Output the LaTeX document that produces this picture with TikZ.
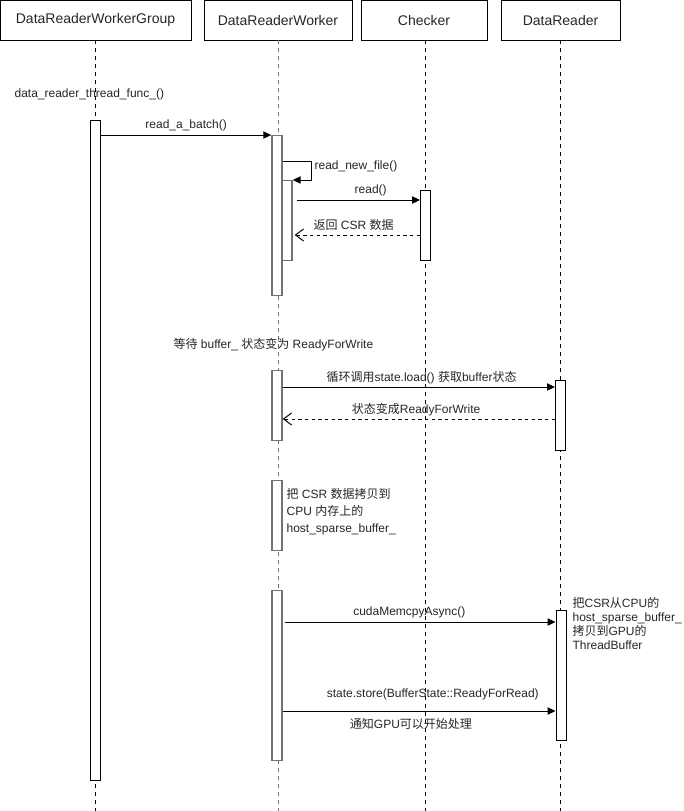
\documentclass[tikz,border=0pt]{standalone}
\usepackage{fontspec}
\setmainfont{Liberation Sans}
\newfontfamily\cjk{Noto Sans CJK SC}
\newcommand{\zh}[1]{{\cjk #1}}
\usetikzlibrary{arrows.meta,positioning}

\begin{document}
\begin{tikzpicture}[x=0.75pt,y=-0.75pt,
  head/.style={draw, minimum height=30pt, inner sep=0pt, text=black!85,
    font=\fontsize{10.5}{12}\selectfont},
  act/.style={draw, fill=white, line width=0.75pt, minimum width=7.5pt,
    inner sep=0pt, anchor=north},
  actw/.style={act, draw=black!55, line width=1.1pt},
  life/.style={dash pattern=on 3pt off 3pt, line width=0.6pt},
  msg/.style={line width=0.75pt, -{Triangle[length=6pt,width=5.5pt]}},
  ret/.style={line width=0.75pt, dash pattern=on 2.5pt off 2.5pt,
    -{Straight Barb[length=6pt,width=9pt]}},
  lbl/.style={inner sep=1pt, text=black!85, font=\fontsize{9}{11}\selectfont},
  txt/.style={lbl, align=left}]

\useasboundingbox (0,0) rectangle (683,811);

% ------------------- Kopfzeile -------------------
\node[head, minimum width=143.25pt] (grp) at (95.5,20) {DataReaderWorkerGroup};
\node[head, minimum width=111pt]    (wrk) at (278,20)  {DataReaderWorker};
\node[head, minimum width=94.5pt]   (chk) at (424,20)  {Checker};
\node[head, minimum width=89.25pt]  (rdr) at (560.5,20) {DataReader};

% Lebenslinien
\draw[life] (grp.south) -- (grp.south |- 0,811);
\draw[life, black!55] (wrk.south) -- (wrk.south |- 0,811);
\draw[life] ([xshift=1pt]chk.south) -- ([xshift=1pt]chk.south |- 0,811);
\draw[life] (rdr.south) -- (rdr.south |- 0,811);

% ------------------- Aktivierungen -------------------
\node[act,  minimum height=495pt]   (a1)  at (grp.south |- 0,120) {};
\node[actw, minimum height=120pt]   (a2)  at (277,135) {};
\node[actw, minimum height=60pt]    (a2b) at (287,180) {};
\node[act,  minimum height=52.5pt]  (c1)  at (425.5,190) {};
\node[actw, minimum height=52.5pt]  (a3)  at (277,370) {};
\node[act,  minimum height=52.5pt]  (r1)  at (560.5,380) {};
\node[actw, minimum height=52.5pt]  (a4)  at (277,480) {};
\node[actw, minimum height=127.5pt] (a5)  at (277,590) {};
\node[act,  minimum height=97.5pt]  (r2)  at (561,610) {};

% ------------------- Texte -------------------
\node[lbl, anchor=west] (start) at (13,94) {data\_reader\_thread\_func\_()};
\node[lbl, anchor=west] (wait) at (172,345)
  {\zh{等待} buffer\_ \zh{状态变为} ReadyForWrite};
\node[txt, anchor=north west, font=\fontsize{9}{12.5}\selectfont] (copy) at (285,487)
  {\zh{把} CSR \zh{数据拷贝到}\\CPU \zh{内存上的}\\host\_sparse\_buffer\_};
\node[txt, anchor=north west, font=\fontsize{9}{10.4}\selectfont] (note) at (571,596)
  {\zh{把}CSR\zh{从}CPU\zh{的}\\host\_sparse\_buffer\_\\\zh{拷贝到}GPU\zh{的}\\ThreadBuffer};

% ------------------- Nachrichten -------------------
\draw[msg] (a1.east |- 0,135) -- (a2.west |- 0,135)
  node[lbl, midway, above=2pt] {read\_a\_batch()};

\draw[msg] (a2.east |- 0,161) -- ++(29,0) |- (a2b.east |- 0,180);
\node[lbl, anchor=west] (rnf) at (313,166) {read\_new\_file()};

\draw[msg] ([xshift=3pt]a2b.east |- 0,200) -- (c1.west |- 0,200)
  node[lbl, pos=0.6, above=2pt] {read()};
\draw[ret] (c1.west |- 0,235) -- ([xshift=1.5pt]a2b.east |- 0,235)
  node[lbl, pos=0.53, above=2pt] {\zh{返回} CSR \zh{数据}};

\draw[msg] (a3.east |- 0,387) -- (r1.west |- 0,387)
  node[lbl, pos=0.51, above=1pt] {\zh{循环调用}state.load() \zh{获取}buffer\zh{状态}};
\draw[ret] (r1.west |- 0,419) -- (a3.east |- 0,419)
  node[lbl, pos=0.51, above=1pt] {\zh{状态变成}ReadyForWrite};

\draw[msg] ([xshift=1.5pt]a5.east |- 0,622) -- (r2.west |- 0,622)
  node[lbl, pos=0.46, above=2pt] {cudaMemcpyAsync()};

\draw[msg] (a5.east |- 0,711) -- (r2.west |- 0,711)
  node[lbl, pos=0.55, above=7pt] {state.store(BufferState::ReadyForRead)}
  node[lbl, pos=0.47, below=4pt] {\zh{通知}GPU\zh{可以开始处理}};

\end{tikzpicture}
\end{document}
